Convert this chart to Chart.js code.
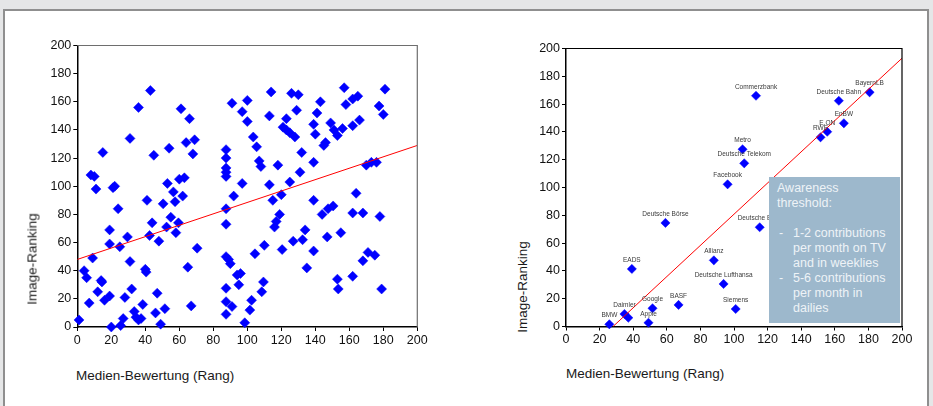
<!DOCTYPE html>
<html>
<head>
<meta charset="utf-8">
<script src="https://cdn.jsdelivr.net/npm/chart.js@4"></script>
<style>
  html, body { margin: 0; padding: 0; }
  body { width: 933px; height: 406px; background: #e5e6e7; position: relative; overflow: hidden;
         font-family: "Liberation Sans", Arial, sans-serif; }
  .panel { position: absolute; left: 3px; top: 9px; width: 922px; height: 400px; background: #fff;
           border: 2px solid #8f8f8f; border-bottom: none; }
  .box { position: absolute; }
  .ytitle { position: absolute; white-space: nowrap; font-size: 13.5px; color: #1a1a1a;
            transform: translate(-50%, -50%) rotate(-90deg); }
  .xtitle { position: absolute; white-space: nowrap; font-size: 13.5px; color: #1a1a1a; }
  .note { position: absolute; left: 769px; top: 177px; width: 131px; height: 146px; background: #9db8cc;
          color: #eef3f7; font-size: 12.5px; line-height: 15px; box-sizing: border-box; padding: 4px 0 0 8px; }
  .note .item { position: relative; padding-left: 16px; }
  .note .item span { position: absolute; left: 2px; }
</style>
</head>
<body>
<div class="panel"></div>

<div class="box" style="left:30px;top:30px;width:410px;height:335px"><canvas id="left"></canvas></div>
<div class="box" style="left:530px;top:30px;width:395px;height:335px"><canvas id="right"></canvas></div>

<div class="ytitle" style="left:32px;top:259px">Image-Ranking</div>
<div class="ytitle" style="left:522px;top:287px">Image-Ranking</div>
<div class="xtitle" style="left:76px;top:368px">Medien-Bewertung (Rang)</div>
<div class="xtitle" style="left:566px;top:366px">Medien-Bewertung (Rang)</div>

<div class="note">
  Awareness<br>threshold:<br><br>
  <div class="item"><span>-</span>1-2 contributions per month on TV and in weeklies</div>
  <div class="item"><span>-</span>5-6 contributions per month in dailies</div>
</div>

<script>
// left: all rated companies
const leftX = [8, 10, 11, 15, 21, 22, 31, 36, 43, 45, 54, 53, 56.5, 57.5, 61, 66, 64, 69, 68, 60, 63, 62,
  87.5, 87.5, 87.5, 87.5, 87.5, 91, 97, 100, 100, 97,
  103.5, 105.5, 107, 108, 114, 113, 113, 118, 123, 121, 123, 125, 128, 126, 130, 129, 132, 131, 125,
  143, 141, 139, 140, 146, 145, 139, 149, 151, 153, 156, 157, 158, 162, 165, 162, 166, 181, 177.5, 180,
  170, 173, 176,
  1, 4, 5.5, 7, 9, 12, 14, 14.5, 16, 19, 19, 19, 20, 24, 25, 25.5, 27, 28, 29.5, 31, 32, 33.5, 34.5, 36,
  37.5, 38.5, 40, 40.5, 41, 42.5, 44, 46, 47, 48, 49, 50.5, 51.5, 52.5, 55, 58, 59.5, 65, 67, 70.5,
  87.5, 87.5, 87.5, 89, 90, 87.5, 87.5, 87.5, 91, 92, 94, 96, 95, 98.5,
  115, 120, 119, 117, 116, 110, 104.5, 120.5, 127, 132.5, 134, 139, 135, 139, 144, 147.5, 150.5, 147,
  155, 164, 162, 168, 178, 171, 175, 168, 153, 153.5, 162, 179, 109.5, 108.5, 102.5, 101.5];
const leftY = [108, 107, 98, 124, 99, 100, 134, 156, 168, 122, 127, 102, 96, 89, 155, 148, 131, 133, 123, 105, 106, 93,
  126, 120, 113, 110, 107, 159, 153, 161, 146, 102,
  135, 128, 118, 114, 167, 150, 101, 115, 148, 142, 140, 138, 135, 166, 165, 154, 124, 110, 103,
  160, 152, 144, 137, 131, 129, 117, 145, 140, 136, 141, 170, 158, 162, 164, 143, 147, 169, 157, 151,
  115, 117, 117,
  5, 40, 35, 17, 49, 25, 33, 32, 19, 69, 59, 22, 0, 84, 57, 1, 6, 21, 64, 46.5, 27, 11, 7, 5,
  6, 16, 41, 39, 90, 65, 74, 10, 24, 61, 2, 87.5, 13, 71, 78, 67, 74, 42.5, 15, 56,
  84, 73, 50, 48, 45, 27.5, 18, 9, 14.5, 93, 37, 38, 30, 3,
  90, 94, 80, 75, 71, 58, 52, 55, 61, 62, 69, 54, 42, 90, 80, 84, 86, 64,
  67, 95, 81, 81, 78.5, 53, 51, 47, 34, 27, 36, 27, 32, 25, 19, 12];
const leftFitX = [0, 200];
const leftFitY = [48, 129];

// right: selected companies
const brands = ["BMW", "Daimler", "", "Apple", "Google", "BASF", "EADS", "Deutsche Börse", "Allianz",
  "Deutsche Lufthansa", "Siemens", "Deutsche Bank", "Commerzbank", "Metro", "Deutsche Telekom", "Facebook",
  "Deutsche Bahn", "BayernLB", "EnBW", "E.ON", "RWE"];
const rightX = [25.8, 34.8, 37.1, 49.1, 51.5, 67, 39.2, 59.2, 88, 93.8, 101, 115.3, 113.1, 105.1, 106.1, 96.2,
  162.4, 180.7, 165.4, 155.5, 151.5];
const rightY = [1.6, 9, 6.3, 2.7, 13.1, 15.5, 41.4, 74.5, 47.6, 30.6, 12.6, 71.4, 166, 127.5, 117.4, 102.3,
  162.4, 168.5, 146.2, 140.1, 136.1];
const rightFitX = [28, 200];
const rightFitY = [0, 193];

const tickValues = [0, 20, 40, 60, 80, 100, 120, 140, 160, 180, 200];

const pts = (xs, ys) => xs.map((x, i) => ({ x: x, y: ys[i] }));

const framePlugin = {
  id: "frame",
  afterDraw(chart, args, opts) {
    const a = chart.chartArea, ctx = chart.ctx;
    ctx.save();
    ctx.strokeStyle = opts.color || "#000";
    ctx.lineWidth = 1.2;
    ctx.beginPath();
    ctx.moveTo(a.left, a.top);
    ctx.lineTo(a.right, a.top);
    ctx.lineTo(a.right, a.bottom);
    ctx.stroke();
    ctx.restore();
  }
};

const labelPlugin = {
  id: "pointLabels",
  afterDatasetsDraw(chart, args, opts) {
    if (!opts.labels) return;
    const ctx = chart.ctx;
    const meta = chart.getDatasetMeta(1);
    ctx.save();
    ctx.font = "6.5px 'Liberation Sans', Arial, sans-serif";
    ctx.fillStyle = "#3a3a3a";
    ctx.textAlign = "center";
    ctx.textBaseline = "middle";
    meta.data.forEach((el, i) => {
      if (opts.labels[i]) ctx.fillText(opts.labels[i], el.x, el.y - 9);
    });
    ctx.restore();
  }
};

function makeChart(id, points, fit, yWidth, xHeight, pad, frameColor, labels) {
  return new Chart(document.getElementById(id), {
    type: "scatter",
    data: {
      datasets: [
        {
          data: fit,
          showLine: true,
          borderColor: "#ff0000",
          borderWidth: 1,
          pointRadius: 0,
          order: 0,
        },
        {
          data: points,
          pointStyle: "rectRot",
          pointRadius: id === "left" ? 5 : 4.6,
          backgroundColor: "#0000ff",
          borderColor: "#0000ff",
          borderWidth: 0.5,
          clip: false,
          order: 1,
        },
      ],
    },
    options: {
      responsive: true,
      maintainAspectRatio: false,
      animation: false,
      events: [],
      layout: { padding: pad },
      scales: {
        x: {
          type: "linear",
          min: 0,
          max: 200,
          afterBuildTicks: (s) => { s.ticks = tickValues.map((v) => ({ value: v })); },
          afterFit: (s) => { s.height = xHeight; },
          grid: { display: true, drawOnChartArea: false, tickLength: 4, color: "#000" },
          border: { color: "#000", width: 1.5 },
          ticks: { padding: 2, color: "#111", font: { family: "'Liberation Sans', Arial, sans-serif", size: 12.5 } },
        },
        y: {
          type: "linear",
          min: 0,
          max: 200,
          afterBuildTicks: (s) => { s.ticks = tickValues.map((v) => ({ value: v })); },
          afterFit: (s) => { s.width = yWidth; },
          grid: { display: true, drawOnChartArea: false, tickLength: 4, color: "#000" },
          border: { color: "#000", width: 1.5 },
          ticks: { padding: 2, color: "#111", font: { family: "'Liberation Sans', Arial, sans-serif", size: 12.5 } },
        },
      },
      plugins: {
        legend: { display: false },
        tooltip: { enabled: false },
        frame: { color: frameColor },
        pointLabels: { labels: labels },
      },
    },
    plugins: [framePlugin, labelPlugin],
  });
}

makeChart("left", pts(leftX, leftY), pts(leftFitX, leftFitY), 47.3, 38,
  { top: 15.5, right: 22.7, left: 0, bottom: 0 }, "#6e6e6e", null);
makeChart("right", pts(rightX, rightY), pts(rightFitX, rightFitY), 36, 38.5,
  { top: 18.5, right: 23, left: 0, bottom: 0 }, "#000", brands);
</script>
</body>
</html>
